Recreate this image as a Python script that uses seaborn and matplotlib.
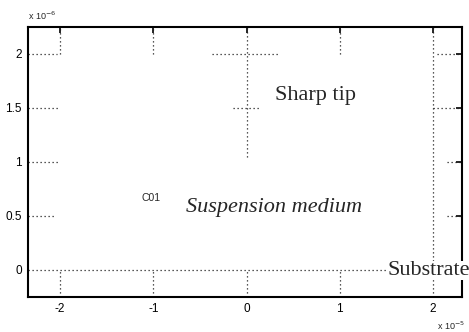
import matplotlib
matplotlib.use("Agg")
import matplotlib.pyplot as plt
import seaborn as sns
import pandas as pd

sns.set_style("white")
plt.rcParams['font.family'] = ['Liberation Sans', 'DejaVu Sans']

# Visible dotted construction lines (x in 1e-5, y in 1e-6)
h_y  = [0.0, 2.0, 2.0, 2.0, 1.5, 1.5, 1.5, 1.0, 1.0, 0.5, 0.5]
h_x0 = [-2.35, -2.35, -0.37, 2.04, -2.35, -0.15, 2.0, -2.35, 2.15, -2.35, 2.15]
h_x1 = [2.31, -2.03, 0.34, 2.31, -2.02, 0.15, 2.31, -2.02, 2.31, -2.05, 2.31]

v_x  = [-2.0, -1.0, 0.0, 1.0, 2.0, -2.0, -1.0, 0.0, 1.0]
v_y0 = [2.0, 2.0, 1.05, 2.0, -0.25, -0.25, -0.25, -0.25, -0.25]
v_y1 = [2.25, 2.25, 2.25, 2.25, 2.25, 0.0, 0.0, 0.0, 0.0]

x_ticks = [-2, -1, 0, 1, 2]
y_ticks = [0, 0.5, 1, 1.5, 2]
x_ticklabels = ["-2", "-1", "0", "1", "2"]
y_ticklabels = ["0", "0.5", "1", "1.5", "2"]

rows = []
sid = 0
for y, a, b in zip(h_y, h_x0, h_x1):
    rows += [dict(seg=sid, x=a, y=y), dict(seg=sid, x=b, y=y)]
    sid += 1
for x, a, b in zip(v_x, v_y0, v_y1):
    rows += [dict(seg=sid, x=x, y=a), dict(seg=sid, x=x, y=b)]
    sid += 1
df = pd.DataFrame(rows)

W, H = 469, 332
fig = plt.figure(figsize=(W / 100, H / 100), dpi=100)
L, R, T, B = 27.5, 462, 27, 297
ax = fig.add_axes([L / W, 1 - B / H, (R - L) / W, (B - T) / H])

sns.lineplot(data=df, x="x", y="y", units="seg", estimator=None, sort=False,
             color="#222222", linewidth=0.9, linestyle=(0, (1, 2.2)),
             legend=False, ax=ax)

ax.set_xlim(-2.35, 2.31)
ax.set_ylim(-0.25, 2.25)
ax.set_xticks(x_ticks)
ax.set_xticklabels(x_ticklabels)
ax.set_yticks(y_ticks)
ax.set_yticklabels(y_ticklabels)
ax.set_xlabel("")
ax.set_ylabel("")
for s in ax.spines.values():
    s.set_visible(True)
    s.set_linewidth(1.5)
    s.set_color("black")
ax.tick_params(direction="in", length=4, width=1.2, top=True, right=True,
               labelsize=8.5, pad=4, colors="black")

ax.text(0.30, 1.577, "Sharp tip", family="Liberation Serif", fontsize=16,
        ha="left", va="baseline")
ax.text(-0.65, 0.538, "Suspension medium", family="Liberation Serif",
        style="italic", fontsize=16, ha="left", va="baseline")
ax.text(1.515, -0.046, "Substrate", family="Liberation Serif", fontsize=16,
        ha="left", va="baseline", clip_on=False,
        bbox=dict(facecolor="white", edgecolor="none", pad=0))
ax.text(-1.132, 0.668, "C01", fontsize=7.5, ha="left", va="center")

fig.text(28 / W, 1 - 20 / H, r"x 10$^{-6}$", fontsize=6.5, ha="left", va="baseline")
fig.text(437 / W, 1 - 330 / H, r"x 10$^{-5}$", fontsize=6.5, ha="left", va="baseline")

fig.savefig("out.png", dpi=100)
